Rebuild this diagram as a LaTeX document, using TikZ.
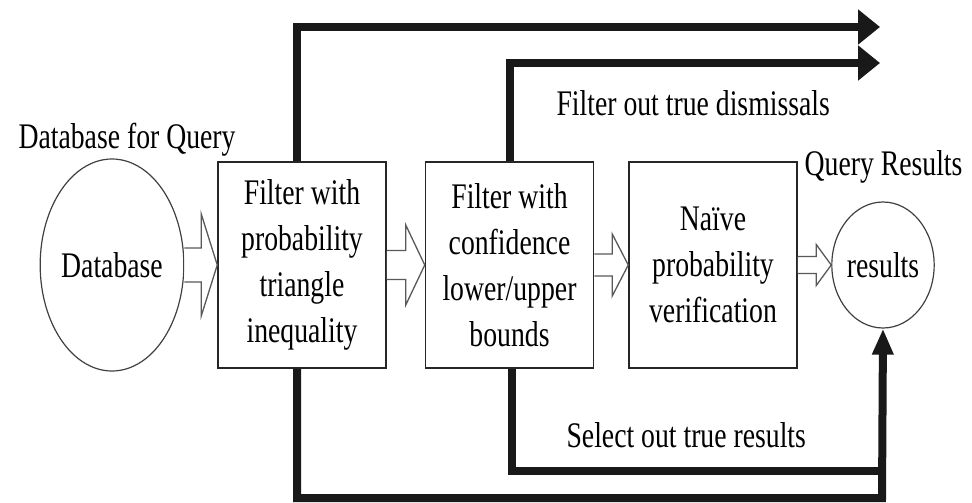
\documentclass[tikz,border=0pt]{standalone}
\usepackage{fontspec}
\setmainfont{Liberation Serif}[FakeStretch=0.77]
\usetikzlibrary{calc,arrows.meta,shapes.geometric}

\tikzset{
  stage/.style={draw=black!85, line width=1.5pt, minimum width=168pt, minimum height=206pt, inner sep=0pt, align=center},
  store/.style={ellipse, draw=black!75, line width=1.2pt, inner sep=0pt},
  hollow/.style={draw=black!65, line width=1.3pt, fill=white, line join=miter},
  flow/.style={line width=8pt, black!90, line join=miter},
}

% block arrow: from, to, shaft half width, head half width, head length
\newcommand{\hollowarrow}[5]{%
  \draw[hollow] ($(#1.east)+(0,-#3)$) -- ($(#2.west)+(-#5,-#3)$) -- ($(#2.west)+(-#5,-#4)$)
    -- (#2.west) -- ($(#2.west)+(-#5,#4)$) -- ($(#2.west)+(-#5,#3)$) -- ($(#1.east)+(0,#3)$);}

\begin{document}
\begin{tikzpicture}[x=1pt, y=-1pt, every node/.style={font=\fontsize{36pt}{46pt}\selectfont}]
  \useasboundingbox (0,0) rectangle (972,503);

  \node[store, minimum width=134pt, minimum height=212pt] (db) at (112,265) {Database};
  \node[anchor=base west] (dbq) at (15,148) {Database for Query};

  \node[stage] (f1) at (302,265) {Filter with\\probability\\triangle\\inequality};
  \node[stage] (f2) at (509.5,265) {Filter with\\confidence\\lower/upper\\bounds};
  \node[stage] (nv) at (713,265) {Naïve\\probability\\verification};

  \node[store, minimum width=80pt, minimum height=126pt] (res) at (883,265) {results};
  \node[anchor=base east] (resq) at (966,175) {Query Results};

  \hollowarrow{db}{f1}{17}{51}{16}
  \hollowarrow{f1}{f2}{14.5}{40}{19}
  \hollowarrow{f2}{nv}{11}{31}{16}
  \hollowarrow{nv}{res}{8.5}{20.5}{15}

  % dismissed candidates
  \coordinate (t1) at (880,27);
  \coordinate (t2) at (880,63);
  \draw[flow, -{Triangle[length=22pt,width=34pt]}] ([xshift=-5pt]f1.north) |- (t1);
  \draw[flow, -{Triangle[length=22pt,width=34pt]}] (f2.north) |- (t2);
  \node[anchor=base west] (dis) at (553,115) {Filter out true dismissals};

  % selected results
  \coordinate (b1) at (882,498);
  \coordinate (b2) at (882,471);
  \draw[flow, -{Triangle[length=26pt,width=20pt]}] ([xshift=-5pt]f1.south) |- (b1) -- (res.south);
  \draw[flow] ([xshift=2.5pt]f2.south) |- (b2);
  \node[anchor=base west] (sel) at (563,447) {Select out true results};
\end{tikzpicture}
\end{document}
